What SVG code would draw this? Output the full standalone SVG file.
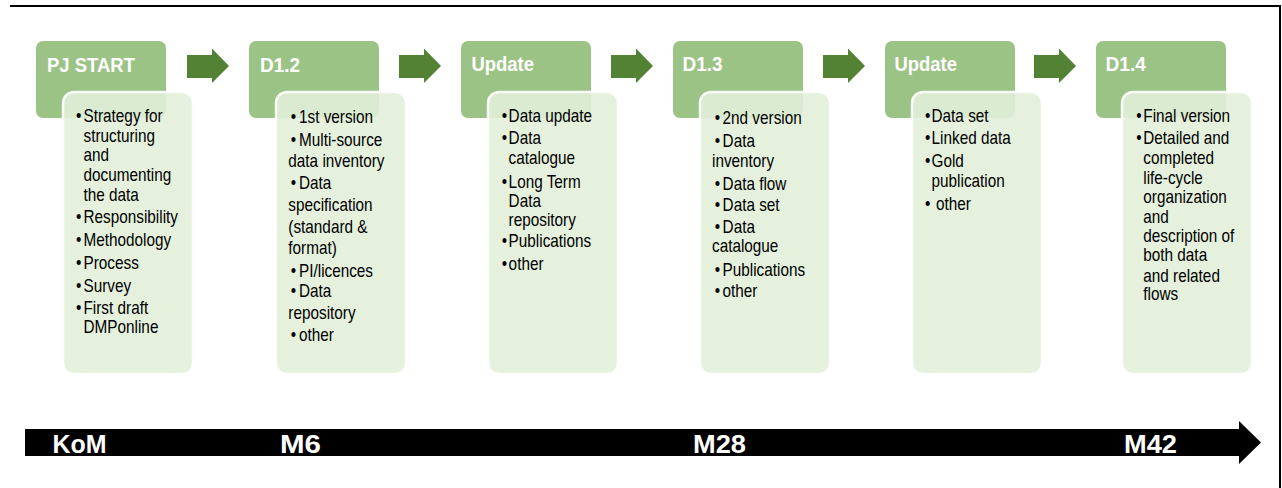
<svg xmlns="http://www.w3.org/2000/svg" width="1282" height="488" viewBox="0 0 1282 488">
  <style>
    .hdr { fill: #9cc386; }
    .body { fill: #e2efd9; fill-opacity: 0.9; stroke: #ffffff; stroke-opacity: 0.9; stroke-width: 2.5; }
    .step { fill: #548235; }
    .htxt { font-family: "Liberation Sans", Arial, sans-serif; font-weight: bold; font-size: 20.5px; fill: #ffffff; }
    .btxt { font-family: "Liberation Sans", Arial, sans-serif; font-size: 17.5px; fill: #000000; }
    .tl { font-family: "Liberation Sans", Arial, sans-serif; font-weight: bold; font-size: 25px; fill: #ffffff; }
  </style>
  <defs>
    <path id="stepArrow" class="step" d="M0,55 H25 V48.5 L42,66 L25,83 V78 H0 Z"/>
  </defs>

  <rect width="1282" height="488" fill="#ffffff"/>
  <!-- frame lines -->
  <line x1="10" y1="6" x2="1281" y2="6" stroke="#000" stroke-width="2"/>
  <line x1="1280" y1="5" x2="1280" y2="488" stroke="#000" stroke-width="2"/>

  <!-- connectors between phases -->
  <g id="connectors">
    <use href="#stepArrow" x="187"/>
    <use href="#stepArrow" x="399"/>
    <use href="#stepArrow" x="611"/>
    <use href="#stepArrow" x="823"/>
    <use href="#stepArrow" x="1034"/>
  </g>

  <!-- phase 1 -->
  <g id="pj-start">
    <rect class="hdr" x="36" y="41" width="130" height="77" rx="7"/>
    <text class="htxt" x="47" y="72" textLength="88" lengthAdjust="spacingAndGlyphs">PJ START</text>
    <rect class="body" x="63" y="92" width="130" height="282" rx="11"/>
    <g class="btxt" transform="translate(76,0) scale(0.875,1)">
      <text x="0" y="122.5">•</text><text x="8.6" y="122.5">Strategy for</text>
      <text x="8.6" y="142">structuring</text>
      <text x="8.6" y="161.5">and</text>
      <text x="8.6" y="181">documenting</text>
      <text x="8.6" y="200.7">the data</text>
      <text x="0" y="223.3">•</text><text x="8.6" y="223.3">Responsibility</text>
      <text x="0" y="246.5">•</text><text x="8.6" y="246.5">Methodology</text>
      <text x="0" y="269.3">•</text><text x="8.6" y="269.3">Process</text>
      <text x="0" y="291.7">•</text><text x="8.6" y="291.7">Survey</text>
      <text x="0" y="314.5">•</text><text x="8.6" y="314.5">First draft</text>
      <text x="8.6" y="333.5">DMPonline</text>
    </g>
  </g>

  <!-- phase 2 -->
  <g id="d12">
    <rect class="hdr" x="249" y="41" width="130" height="77" rx="7"/>
    <text class="htxt" x="260" y="72" textLength="40" lengthAdjust="spacingAndGlyphs">D1.2</text>
    <rect class="body" x="276" y="92" width="130" height="282" rx="11"/>
    <g class="btxt" transform="translate(290.7,0) scale(0.875,1)">
      <text x="0" y="123.3">•</text><text x="9.5" y="123.3">1st version</text>
      <text x="0" y="146.2">•</text><text x="9.5" y="146.2">Multi-source</text>
      <text x="-2.7" y="166.7">data inventory</text>
      <text x="0" y="189.3">•</text><text x="9.5" y="189.3">Data</text>
      <text x="-2.7" y="210.7">specification</text>
      <text x="-2.7" y="233.3">(standard &amp;</text>
      <text x="-2.7" y="254">format)</text>
      <text x="0" y="276.7">•</text><text x="9.5" y="276.7">PI/licences</text>
      <text x="0" y="297.3">•</text><text x="9.5" y="297.3">Data</text>
      <text x="-2.7" y="319.3">repository</text>
      <text x="0" y="340.7">•</text><text x="9.5" y="340.7">other</text>
    </g>
  </g>

  <!-- phase 3 -->
  <g id="update-1">
    <rect class="hdr" x="461" y="41" width="130" height="77" rx="7"/>
    <text class="htxt" x="471.5" y="71" textLength="62.5" lengthAdjust="spacingAndGlyphs">Update</text>
    <rect class="body" x="488" y="92" width="130" height="282" rx="11"/>
    <g class="btxt" transform="translate(501.7,0) scale(0.875,1)">
      <text x="0" y="121.7">•</text><text x="7.9" y="121.7">Data update</text>
      <text x="0" y="144.3">•</text><text x="7.9" y="144.3">Data</text>
      <text x="7.9" y="164">catalogue</text>
      <text x="0" y="187.7">•</text><text x="7.9" y="187.7">Long Term</text>
      <text x="7.9" y="206.7">Data</text>
      <text x="7.9" y="225.7">repository</text>
      <text x="0" y="247.3">•</text><text x="7.9" y="247.3">Publications</text>
      <text x="0" y="270.5">•</text><text x="7.9" y="270.5">other</text>
    </g>
  </g>

  <!-- phase 4 -->
  <g id="d13">
    <rect class="hdr" x="673" y="41" width="130" height="77" rx="7"/>
    <text class="htxt" x="682.5" y="71" textLength="40" lengthAdjust="spacingAndGlyphs">D1.3</text>
    <rect class="body" x="700" y="92" width="130" height="282" rx="11"/>
    <g class="btxt" transform="translate(714.7,0) scale(0.875,1)">
      <text x="0" y="124">•</text><text x="9" y="124">2nd version</text>
      <text x="0" y="146.7">•</text><text x="9" y="146.7">Data</text>
      <text x="-3.1" y="166.7">inventory</text>
      <text x="0" y="190">•</text><text x="9" y="190">Data flow</text>
      <text x="0" y="210.7">•</text><text x="9" y="210.7">Data set</text>
      <text x="0" y="232.7">•</text><text x="9" y="232.7">Data</text>
      <text x="-3.1" y="252.5">catalogue</text>
      <text x="0" y="276.5">•</text><text x="9" y="276.5">Publications</text>
      <text x="0" y="296.7">•</text><text x="9" y="296.7">other</text>
    </g>
  </g>

  <!-- phase 5 -->
  <g id="update-2">
    <rect class="hdr" x="885" y="41" width="130" height="77" rx="7"/>
    <text class="htxt" x="894.5" y="71" textLength="62.5" lengthAdjust="spacingAndGlyphs">Update</text>
    <rect class="body" x="912" y="92" width="130" height="282" rx="11"/>
    <g class="btxt" transform="translate(925,0) scale(0.875,1)">
      <text x="0" y="121.7">•</text><text x="7.5" y="121.7">Data set</text>
      <text x="0" y="144.3">•</text><text x="7.5" y="144.3">Linked data</text>
      <text x="0" y="166.7">•</text><text x="7.5" y="166.7">Gold</text>
      <text x="7.5" y="187.3">publication</text>
      <text x="0" y="210">•</text><text x="12.6" y="210">other</text>
    </g>
  </g>

  <!-- phase 6 -->
  <g id="d14">
    <rect class="hdr" x="1096" y="41" width="130" height="77" rx="7"/>
    <text class="htxt" x="1105.5" y="71" textLength="40.5" lengthAdjust="spacingAndGlyphs">D1.4</text>
    <rect class="body" x="1122" y="92" width="130" height="282" rx="11"/>
    <g class="btxt" transform="translate(1136.3,0) scale(0.875,1)">
      <text x="0" y="121.7">•</text><text x="8" y="121.7">Final version</text>
      <text x="0" y="144.3">•</text><text x="8" y="144.3">Detailed and</text>
      <text x="8" y="164.5">completed</text>
      <text x="8" y="184">life-cycle</text>
      <text x="8" y="202.7">organization</text>
      <text x="8" y="223.3">and</text>
      <text x="8" y="242.3">description of</text>
      <text x="8" y="261">both data</text>
      <text x="8" y="281.7">and related</text>
      <text x="8" y="300">flows</text>
    </g>
  </g>

  <!-- project timeline -->
  <g id="timeline">
    <path d="M25,429 H1239 V421 L1261,442.5 L1239,464 V456 H25 Z" fill="#000000"/>
    <text class="tl" x="52.5" y="453" textLength="54" lengthAdjust="spacingAndGlyphs">KoM</text>
    <text class="tl" x="280" y="453" textLength="41" lengthAdjust="spacingAndGlyphs">M6</text>
    <text class="tl" x="693" y="453" textLength="53" lengthAdjust="spacingAndGlyphs">M28</text>
    <text class="tl" x="1124" y="453" textLength="53" lengthAdjust="spacingAndGlyphs">M42</text>
  </g>
</svg>
